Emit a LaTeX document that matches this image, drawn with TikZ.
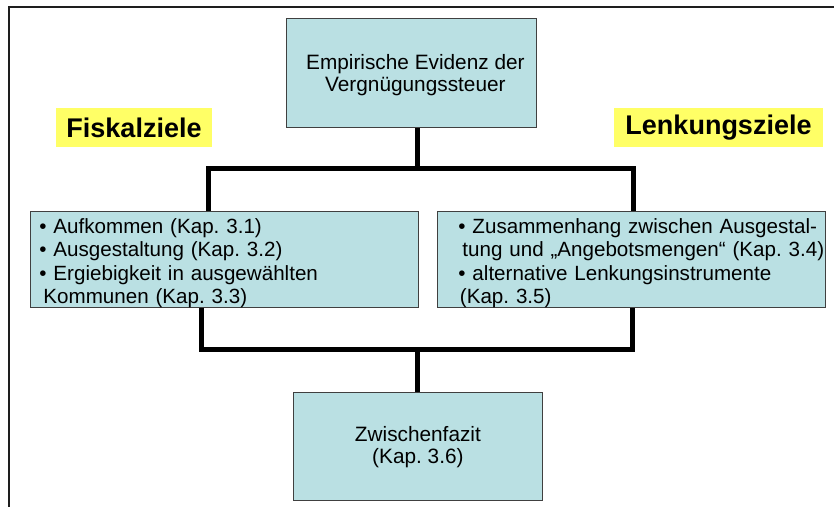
\documentclass[tikz,border=0pt]{standalone}
\usepackage{fontspec}
\setmainfont{Liberation Sans}
\frenchspacing
\definecolor{boxfill}{RGB}{186,224,227}
\definecolor{labelfill}{RGB}{255,255,102}
\definecolor{frameline}{RGB}{30,30,30}
\tikzset{
  pbox/.style={draw=black!75, line width=0.8pt, fill=boxfill, inner sep=0pt, anchor=north west},
  centerbox/.style={pbox, align=center, font=\fontsize{20.8}{22}\selectfont\frenchspacing},
  listbox/.style={pbox, align=left, text width=#1, font=\fontsize{20.6}{23.3}\selectfont\frenchspacing},
  goal/.style={fill=labelfill, inner sep=0pt, minimum width=156pt, minimum height=39pt, font=\fontsize{27}{30}\selectfont\bfseries},
  conn/.style={line width=5pt, line join=miter, black},
}
\begin{document}
\begin{tikzpicture}[x=1pt,y=-1pt]
\useasboundingbox (0,0) rectangle (834,506);
\fill[white] (0,0) rectangle (834,506);
\begin{scope}
\clip (0,0) rectangle (834,506);
\draw[frameline, line width=1.6pt] (9,7) rectangle (850,520);
\end{scope}

% boxes
\node[centerbox, minimum width=250pt] (top) at (286,18)
  {\hspace*{8pt}\rule{0pt}{51.5pt}Empirische Evidenz der\\
   \hspace*{8pt}\rule[-35.5pt]{0pt}{35.5pt}Vergnügungssteuer};

\node[goal] (fis) at (134,127.5) {Fiskalziele};
\node[goal, minimum width=209pt] (len) at (718.5,127.5) {Lenkungsziele};

\node[listbox=370pt, inner xsep=9pt] (left) at (30,211)
  {\mbox{\rule{0pt}{22pt}• Aufkommen (Kap. 3.1)}\\
   \mbox{• Ausgestaltung (Kap. 3.2)}\\
   \mbox{• Ergiebigkeit in ausgewählten}\\
   \mbox{\hspace*{4pt}\rule[-4pt]{0pt}{4pt}Kommunen (Kap. 3.3)}};

\node[listbox=346pt, inner xsep=21pt] (right) at (437,211)
  {\mbox{\rule{0pt}{22pt}• Zusammenhang zwischen Ausgestal-}\\
   \mbox{\hspace*{4pt}tung und „Angebotsmengen“ (Kap. 3.4)}\\
   \mbox{• alternative Lenkungsinstrumente}\\
   \mbox{\hspace*{1.5pt}\rule[-4pt]{0pt}{4pt}(Kap. 3.5)}};

\node[centerbox, minimum width=249pt] (bot) at (293,392)
  {\rule{0pt}{49pt}Zwischenfazit\\
   \rule[-37pt]{0pt}{37pt}(Kap. 3.6)};

% junction points
\coordinate (jt) at (417.5,168.5);
\coordinate (jtl) at (208.5,168.5);
\coordinate (jtr) at (633.5,168.5);
\coordinate (jb) at (417.5,349);
\coordinate (jbl) at (201.7,349);
\coordinate (jbr) at (632.3,349);

% connectors
\draw[conn] (top.south -| jt) -- (jt);
\draw[conn] (left.north -| jtl) -- (jtl) -- (jtr) -- (right.north -| jtr);
\draw[conn] (left.south -| jbl) -- (jbl) -- (jbr) -- (right.south -| jbr);
\draw[conn] (jb) -- (bot.north -| jb);
\end{tikzpicture}
\end{document}
